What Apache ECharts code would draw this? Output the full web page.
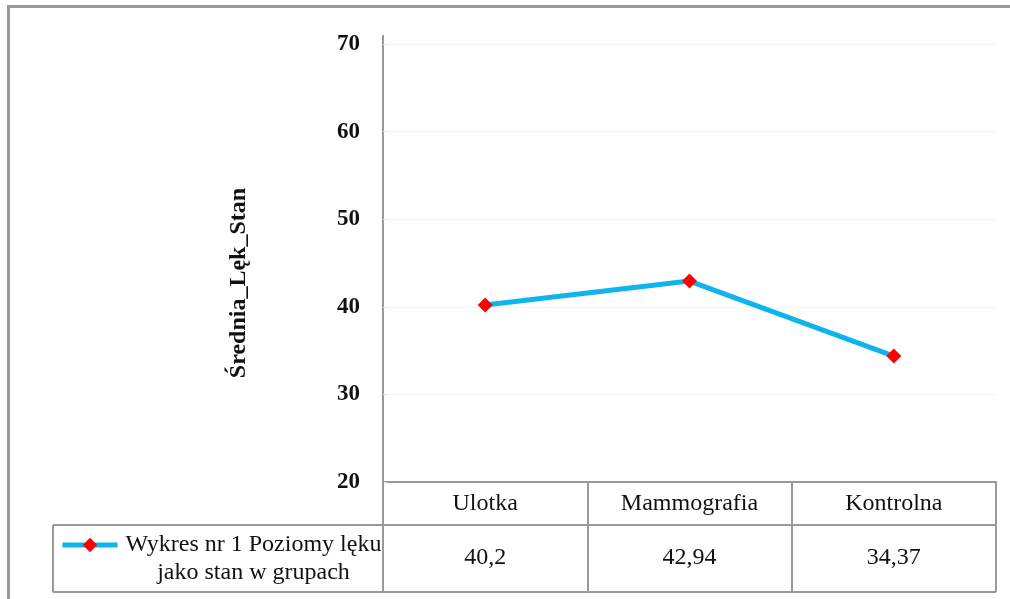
<!DOCTYPE html>
<html><head><meta charset="utf-8">
<script src="https://cdn.jsdelivr.net/npm/echarts@6/dist/echarts.min.js"></script>
<style>html,body{margin:0;padding:0;background:#fff}#c{width:1010px;height:599px}</style>
</head><body><div id="c"></div>
<script>
const categories = ['Ulotka', 'Mammografia', 'Kontrolna'];
const values = [40.2, 42.94, 34.37];
const valueLabels = ['40,2', '42,94', '34,37'];
const seriesName = 'Wykres nr 1 Poziomy lęku jako stan w grupach';
const yTicks = [20, 30, 40, 50, 60, 70];
const yTitle = 'Średnia_Lęk_Stan';

const FONT = '"Liberation Serif", "DejaVu Serif", serif';
const chart = echarts.init(document.getElementById('c'), null, {renderer: 'canvas'});
chart.setOption({
  animation: false,
  backgroundColor: '#fff',
  grid: {left: 383, right: 14, top: 44, bottom: 117, containLabel: false},
  xAxis: [{
    type: 'category', data: categories, position: 'bottom',
    axisLine: {show: true, lineStyle: {color: '#999', width: 2}},
    axisTick: {show: true, length: 110, lineStyle: {color: '#999', width: 2}},
    axisLabel: {margin: 10, fontFamily: FONT, fontSize: 24, color: '#111', lineHeight: 24},
    splitLine: {show: false}
  }, {
    type: 'category', data: valueLabels, position: 'bottom', offset: 76,
    axisLine: {show: false}, axisTick: {show: false},
    axisLabel: {margin: 0, verticalAlign: 'middle', fontFamily: FONT, fontSize: 24, color: '#111'},
    splitLine: {show: false}
  }],
  yAxis: {
    type: 'value', min: yTicks[0], max: yTicks[yTicks.length - 1], interval: 10,
    name: yTitle, nameLocation: 'middle', nameRotate: 90, nameGap: 132,
    nameTextStyle: {fontFamily: FONT, fontSize: 24, fontWeight: 'bold', color: '#111', padding: [0, 40, 0, 0]},
    axisLine: {show: true, lineStyle: {color: '#999', width: 2}},
    axisTick: {show: true, inside: true, length: 4, lineStyle: {color: '#ddd'}},
    axisLabel: {margin: 23, fontFamily: FONT, fontSize: 23, fontWeight: 'bold', color: '#111'},
    splitLine: {show: true, lineStyle: {color: '#f5f5f5', width: 1}}
  },
  legend: {
    show: true, left: 60, top: 533, orient: 'vertical', padding: 0,
    itemWidth: 55, itemHeight: 18, itemGap: 0,
    lineStyle: {width: 5},
    data: [{name: seriesName}],
    formatter: () => '{a|Wykres nr 1 Poziomy lęku}\n{a|jako stan w grupach}',
    textStyle: {padding: [28, 0, 0, 0], rich: {a: {fontFamily: FONT, fontSize: 24, color: '#111', width: 262, align: 'center', lineHeight: 28}}}
  },
  series: [{
    name: seriesName, type: 'line', data: values, xAxisIndex: 0,
    lineStyle: {color: '#0fb4ec', width: 5},
    itemStyle: {color: '#ff0000'},
    symbol: 'diamond', symbolSize: 15, showSymbol: true
  }],
  graphic: [
    {type: 'rect', shape: {x: 8.5, y: 6.5, width: 1010, height: 620}, style: {fill: 'none', stroke: '#999', lineWidth: 3}, silent: true},
    {type: 'line', shape: {x1: 383, y1: 35, x2: 383, y2: 45}, style: {stroke: '#999', lineWidth: 2}, silent: true},
    {type: 'line', shape: {x1: 53, y1: 525, x2: 996, y2: 525}, style: {stroke: '#999', lineWidth: 2}, silent: true},
    {type: 'line', shape: {x1: 53, y1: 592, x2: 996, y2: 592}, style: {stroke: '#999', lineWidth: 2}, silent: true},
    {type: 'line', shape: {x1: 53, y1: 525, x2: 53, y2: 592}, style: {stroke: '#999', lineWidth: 2}, silent: true}
  ]
});
</script></body></html>
